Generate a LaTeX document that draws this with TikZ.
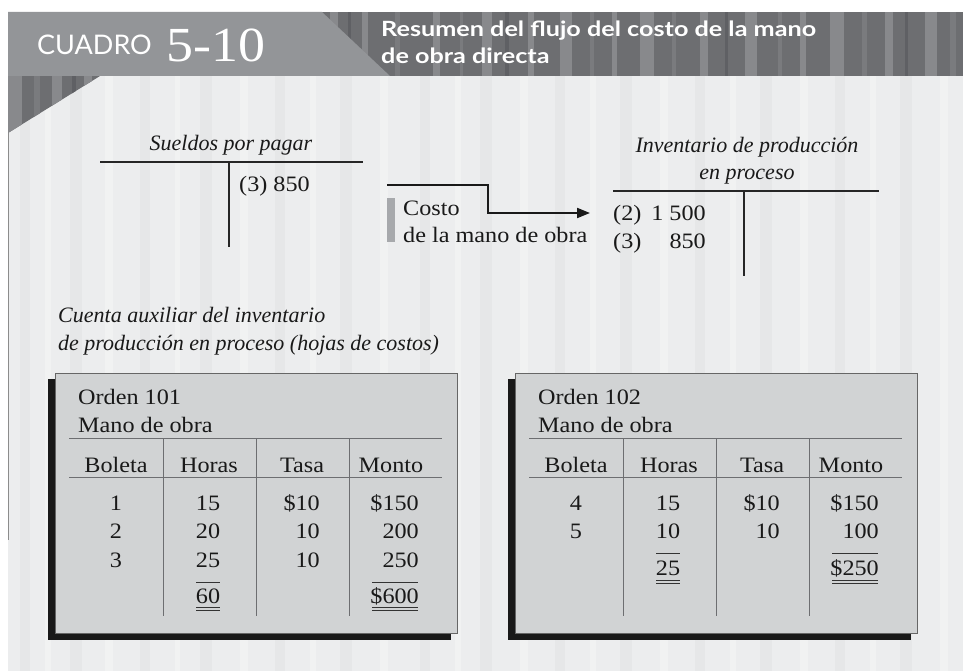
\documentclass[tikz,border=0pt]{standalone}
\usepackage{fontspec}
\usetikzlibrary{arrows.meta}
\setmainfont{Liberation Serif}
\newfontfamily\wideserif{Liberation Serif}[FakeStretch=1.1]
\newfontfamily\hdrfont{Lato}[FakeStretch=1.2]
\newfontfamily\cuadrofont{Lato}
\definecolor{hdark}{HTML}{6D6E71}
\definecolor{hlt}{HTML}{88898C}
\definecolor{hmid}{HTML}{7A7B7E}
\definecolor{hdk}{HTML}{5F6064}
\definecolor{hlight}{HTML}{939598}
\definecolor{bodybg}{HTML}{ECEDEE}
\definecolor{bA}{HTML}{E6E7E8}
\definecolor{bB}{HTML}{F1F2F2}
\definecolor{boxfill}{HTML}{D1D3D4}
\definecolor{rulegray}{HTML}{6D6E71}
\definecolor{barcol}{HTML}{A7A9AC}
\begin{document}
\begin{tikzpicture}[x=1pt,y=-1pt,
  bt/.style={font=\wideserif\fontsize{22}{26}\selectfont, inner sep=0pt, text=black!90},
  bit/.style={font=\itshape\fontsize{22}{26}\selectfont, inner sep=0pt, text=black!90},
  trule/.style={line width=1.1pt, black!85},
  grule/.style={line width=1pt, rulegray},
  srule/.style={line width=0.9pt, black!80}]
\useasboundingbox (0,0) rectangle (963,671);
\fill[white] (0,0) rectangle (963,671);
% body background
\fill[bodybg] (8,76) rectangle (963,671);
\foreach \x/\w/\c in {20/10/bA,45/6/bB,70/12/bA,105/8/bB,140/10/bA,175/5/bB,200/12/bA,240/8/bB,275/10/bA,310/6/bB,340/12/bA,380/8/bB,420/10/bA,455/6/bB,480/12/bA,520/8/bB,555/10/bA,590/6/bB,620/12/bA,660/8/bB,695/10/bA,730/6/bB,760/12/bA,800/8/bB,835/10/bA,870/6/bB,900/12/bA,940/8/bB}
  \fill[\c] (\x,76) rectangle ++(\w,595);
\draw[line width=1pt, black!45] (8,133) -- (8,540);
% header band
\fill[hdark] (8,12) rectangle (963,76);
\foreach \x/\w/\c in {330/8/hlt,348/3/hdk,362/6/hlt,395/5/hmid,433/7/hlt,460/3/hmid,482/10/hlt,505/4/hdk,528/6/hlt,560/12/hlt,590/4/hmid,612/5/hlt,640/14/hlt,672/4/hmid,700/8/hlt,725/3/hdk,745/12/hlt,778/4/hmid,800/6/hlt,830/14/hlt,862/5/hmid,885/8/hlt,905/3/hdk,925/12/hlt,950/6/hmid}
  \fill[\c] (\x,12) rectangle ++(\w,64);
\fill[hlight] (8,12) -- (322,12) -- (390,76) -- (8,76) -- cycle;
\begin{scope}
  \clip (8,76) -- (100,76) -- (8,133) -- cycle;
  \fill[hdark] (8,76) rectangle (100,133);
  \foreach \x/\w/\c in {8/14/hlt,34/6/hmid,52/10/hlt,72/4/hdk,84/8/hlt}
    \fill[\c] (\x,76) rectangle ++(\w,57);
\end{scope}
% header texts
\node[anchor=base west, inner sep=0pt, text=white, font=\cuadrofont\fontsize{27}{31}\selectfont] (cuadro) at (37,55) {CUADRO};
\node[anchor=base west, inner sep=0pt, text=white, font=\wideserif\fontsize{49}{58}\selectfont] (num) at (166,62) {5-10};
\node[anchor=base west, inner sep=0pt, text=white, font=\hdrfont\bfseries\fontsize{21}{25}\selectfont] (t1) at (381,37) {Resumen del flujo del costo de la mano};
\node[anchor=base west, inner sep=0pt, text=white, font=\hdrfont\bfseries\fontsize{21}{25}\selectfont] (t2) at (381,64) {de obra directa};
% T-account: Sueldos por pagar
\node[bit, anchor=base] (sptitle) at (231,151) {Sueldos por pagar};
\coordinate (spL) at (100,162); \coordinate (spR) at (363,162);
\coordinate (spT) at (229,162); \coordinate (spB) at (229,247);
\draw[trule] (spL) -- (spR);
\draw[trule] (spT) -- (spB);
\node[bt, anchor=base west] (spe) at (239,192) {(3) 850};
% T-account: Inventario
\node[bit, anchor=base] (ivt1) at (747,153) {Inventario de producción};
\node[bit, anchor=base] (ivt2) at (747,180) {en proceso};
\coordinate (ivL) at (613,191); \coordinate (ivR) at (879,191);
\coordinate (ivT) at (744,191); \coordinate (ivB) at (744,276);
\draw[trule] (ivL) -- (ivR);
\draw[trule] (ivT) -- (ivB);
\node[bt, anchor=base west] (ive1) at (613,220) {(2)};
\node[bt, anchor=base east] (ivn1) at (706,220) {1 500};
\node[bt, anchor=base west] (ive2) at (613,248) {(3)};
\node[bt, anchor=base east] (ivn2) at (706,248) {850};
% arrow and label
\fill[barcol] (387,198) rectangle (395,242);
\node[bt, anchor=base west] (costo1) at (403,215) {Costo};
\node[bt, anchor=base west] (costo2) at (403,242) {de la mano de obra};
\coordinate (arS) at (387,185);
\coordinate (arE) at (590,213);
\draw[line width=2pt, black!90, -{Triangle[length=13pt,width=10pt]}] (arS) -- (488,185) -- (488,213) -- (arE);
% subtitle
\node[bit, anchor=base west] (sub1) at (58,322) {Cuenta auxiliar del inventario};
\node[bit, anchor=base west] (sub2) at (58,350) {de producción en proceso (hojas de costos)};
% boxes
\foreach \dx/\ord in {0/101,460/102}{
  \begin{scope}[xshift=\dx pt]
    \fill[black!90] (48,379) rectangle (451,640);
    \fill[boxfill] (55,373) rectangle (457,633);
    \draw[line width=0.8pt, black!60] (55,373) rectangle (457,633);
    \node[bt, anchor=base west] (ord\ord) at (78,404) {Orden \ord};
    \node[bt, anchor=base west] (mo\ord) at (78,432) {Mano de obra};
    \draw[grule] (69,438) -- (442,438);
    \draw[grule] (69,477) -- (442,477);
    \foreach \vx in {163,256,349} \draw[grule] (\vx,438) -- (\vx,616);
    \node[bt, anchor=base] (hb\ord) at (116,472) {Boleta};
    \node[bt, anchor=base] (hh\ord) at (209,472) {Horas};
    \node[bt, anchor=base] (ht\ord) at (302,472) {Tasa};
    \node[bt, anchor=base] (hm\ord) at (391,472) {Monto};
  \end{scope}
}
% box 1 rows
\foreach \b/\h/\t/\m/\y [count=\i] in {1/15/\$10/\$150/510, 2/20/10/200/538, 3/25/10/250/567}{
  \node[bt, anchor=base] (ab\i) at (116,\y) {\b};
  \node[bt, anchor=base] (ah\i) at (208,\y) {\h};
  \node[bt, anchor=base east] (at\i) at (320,\y) {\t};
  \node[bt, anchor=base east] (am\i) at (419,\y) {\m};
}
\node[bt, anchor=base] (ahtot) at (208,603) {60};
\node[bt, anchor=base east] (amtot) at (419,603) {\$600};
\draw[srule] (196,582) -- (220,582);
\draw[srule] (196,607) -- (220,607); \draw[srule] (196,610) -- (220,610);
\draw[srule] (372,582) -- (418,582);
\draw[srule] (372,607) -- (418,607); \draw[srule] (372,610) -- (418,610);
% box 2 rows
\foreach \b/\h/\t/\m/\y [count=\i] in {4/15/\$10/\$150/510, 5/10/10/100/538}{
  \node[bt, anchor=base] (bb\i) at (576,\y) {\b};
  \node[bt, anchor=base] (bh\i) at (668,\y) {\h};
  \node[bt, anchor=base east] (bt\i) at (780,\y) {\t};
  \node[bt, anchor=base east] (bm\i) at (879,\y) {\m};
}
\node[bt, anchor=base] (bhtot) at (668,575) {25};
\node[bt, anchor=base east] (bmtot) at (879,575) {\$250};
\draw[srule] (656,553) -- (680,553);
\draw[srule] (656,580) -- (680,580); \draw[srule] (656,583) -- (680,583);
\draw[srule] (832,553) -- (878,553);
\draw[srule] (832,580) -- (878,580); \draw[srule] (832,583) -- (878,583);
\end{tikzpicture}
\end{document}
